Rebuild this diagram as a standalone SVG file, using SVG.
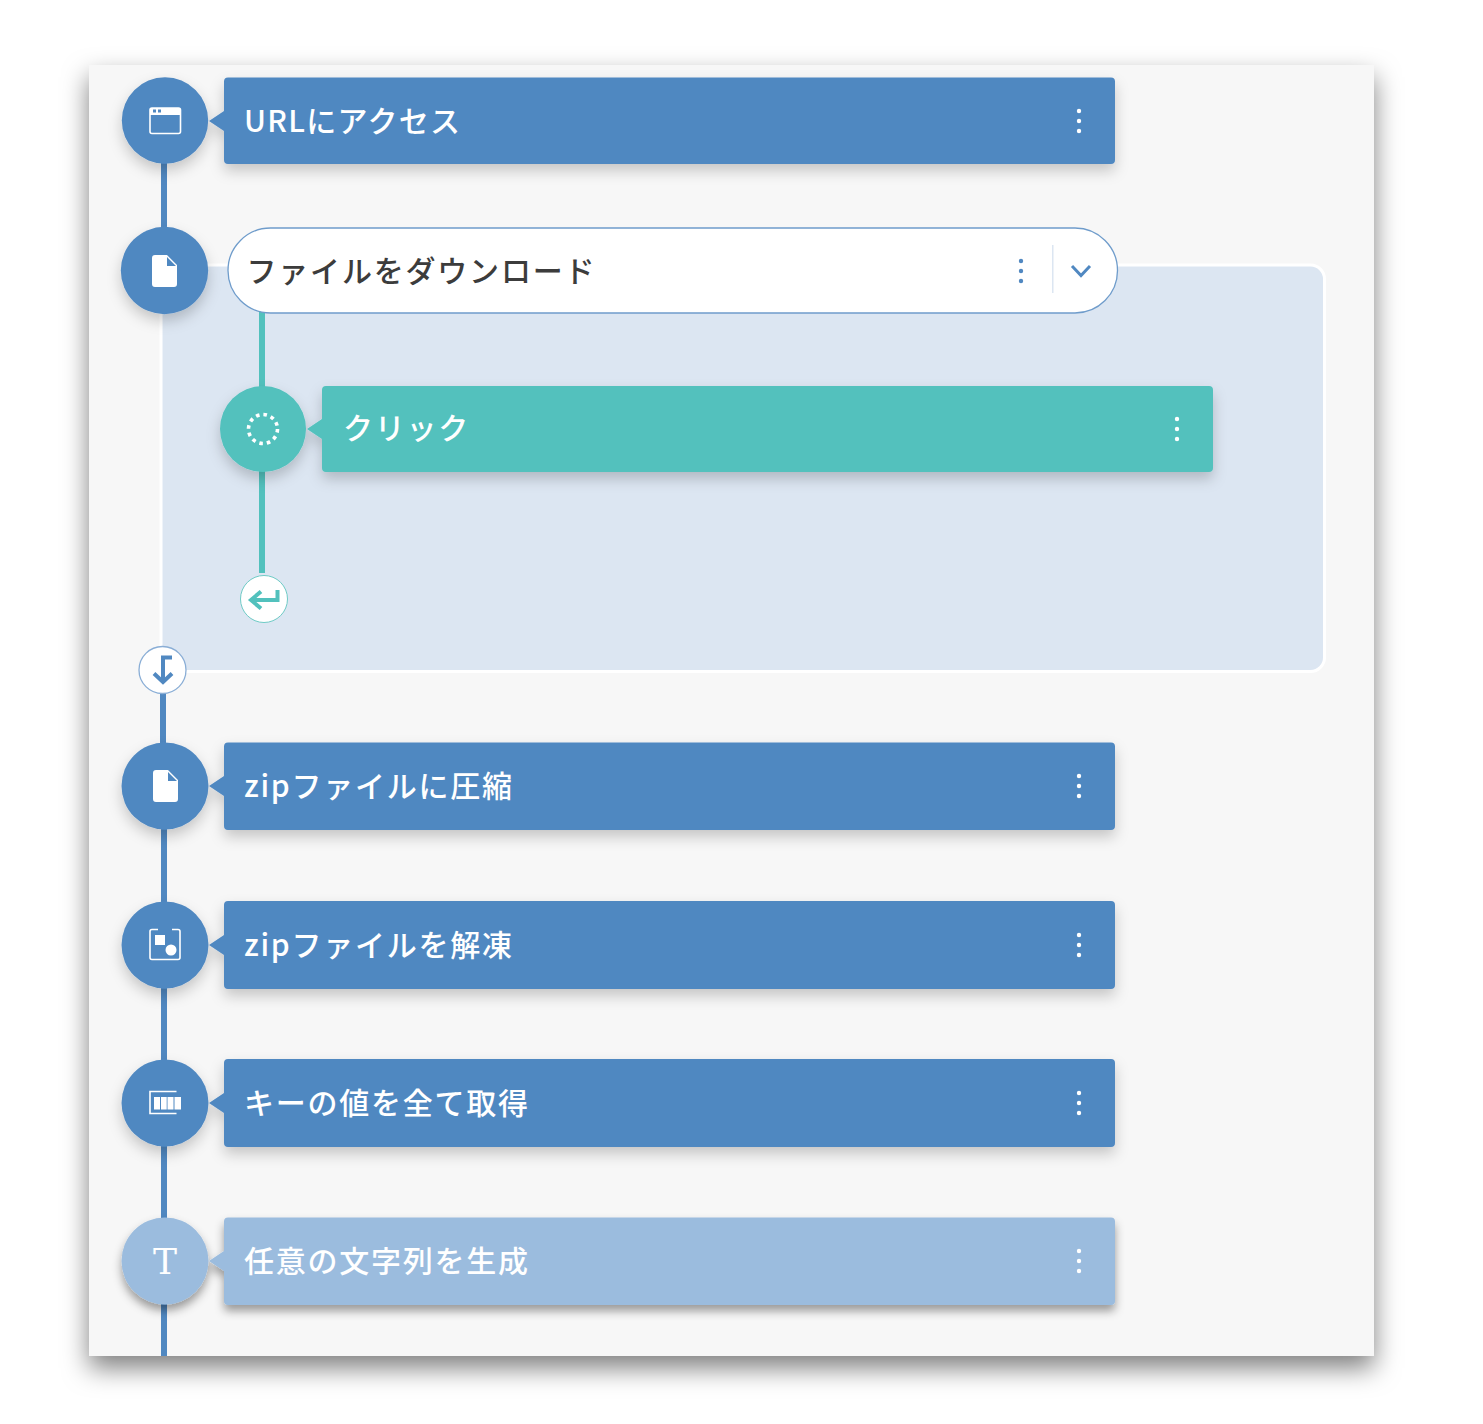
<svg xmlns="http://www.w3.org/2000/svg" width="1483" height="1424" viewBox="0 0 1483 1424">
<style>
text{font-family:"Noto Sans CJK JP","Noto Sans",sans-serif;font-size:30px;font-weight:500;letter-spacing:1.75px;fill:#fff}
.b{fill:#5088c1}.t{fill:#52c1bd}.l{fill:#9bbcde}
.ic{fill:none;stroke:#fff;stroke-width:1.6}
.w{fill:#fff}
</style>
<defs>
<filter id="panel" x="-10%" y="-10%" width="120%" height="120%"><feDropShadow dx="0" dy="12" stdDeviation="13" flood-color="#000" flood-opacity=".5"/></filter>
<filter id="sh" x="-20%" y="-40%" width="140%" height="200%"><feDropShadow dx="0" dy="7" stdDeviation="7" flood-color="#000" flood-opacity=".2"/></filter>
<filter id="shd" x="-20%" y="-40%" width="140%" height="200%"><feDropShadow dx="0" dy="6" stdDeviation="5" flood-color="#000" flood-opacity=".38"/></filter>
<g id="kebab"><circle cx="0" cy="-10" r="2.200"/><circle cx="0" cy="0" r="2.200"/><circle cx="0" cy="10" r="2.200"/></g>
<path id="doc" d="M-11-16H3L13-6V13Q13 16 10 16H-9Q-12 16-12 13V-13Q-12-16-9-16ZM3-14V-5H12Z" fill="#fff" fill-rule="evenodd"/>
</defs>
<rect width="1483" height="1424" fill="#fff"/>
<rect id="canvas" x="89" y="65" width="1285" height="1291" fill="#f7f7f7" filter="url(#panel)"/>
<g id="loop-area"><rect x="161" y="265" width="1163.500" height="406.500" rx="14" fill="#dce6f2" stroke="#fff" stroke-width="3"/></g>
<g id="connectors">
<rect x="161" y="160" width="6" height="72" class="b"/>
<rect x="160" y="690" width="6" height="56" class="b"/>
<rect x="161" y="826" width="6" height="78" class="b"/>
<rect x="161" y="985" width="6" height="78" class="b"/>
<rect x="161" y="1143" width="6" height="78" class="b"/>
<rect x="161" y="1302" width="6" height="54" class="b"/>
<rect x="259" y="310" width="6" height="80" class="t"/>
<rect x="259" y="468" width="6" height="105" class="t"/>
</g>
<g id="node-url">
<g filter="url(#sh)"><circle cx="165" cy="120.500" r="43.200" class="b"/><path d="M224 77.500H1111Q1115 77.500 1115 81.500V160Q1115 164 1111 164H228Q224 164 224 160V131L209 121L224 111V81.500Q224 77.500 228 77.500Z" class="b"/></g>
<text x="244" y="132" style="letter-spacing:1.3px">URLにアクセス</text>
<use href="#kebab" x="1079" y="121" class="w"/>
<rect x="150" y="108" width="30.500" height="25.500" rx="2" class="ic"/><path d="M150 108H180V115H150Z" fill="#fff"/><rect x="153" y="109.500" width="3" height="3" class="b"/><rect x="158" y="109.500" width="3" height="3" class="b"/>
</g>
<g id="node-download">
<circle cx="164.500" cy="270.500" r="43.700" class="b" filter="url(#sh)"/>
<rect x="228" y="228" width="889.500" height="85" rx="42.500" fill="#fff" stroke="#6f9ccb" stroke-width="1.300"/>
<text x="246.500" y="282" style="fill:#3c3c3c;letter-spacing:1.8px">ファイルをダウンロード</text>
<use href="#kebab" x="1021" y="271" class="b"/>
<rect x="1052" y="245" width="1.500" height="48" fill="#dce6f2"/>
<path d="M1072 266L1081 275.500L1090 266" fill="none" stroke="#5088c1" stroke-width="3"/>
<use href="#doc" x="164" y="271"/>
</g>
<g id="node-click">
<g filter="url(#sh)"><circle cx="263" cy="429" r="43" class="t"/><path d="M322 386H1209Q1213 386 1213 390V468Q1213 472 1209 472H326Q322 472 322 468V439L307 429L322 419V390Q322 386 326 386Z" class="t"/></g>
<text x="343" y="439">クリック</text>
<use href="#kebab" x="1177" y="429" class="w"/>
<circle cx="263" cy="429" r="14.500" fill="none" stroke="#fff" stroke-width="3.600" stroke-dasharray="3.600 3.990"/>
</g>
<g id="node-return">
<circle cx="264" cy="599" r="23.500" fill="#fff" stroke="#6fcbc6" stroke-width="1"/>
<path d="M277.500 590V600H252M261 591.500L251 600L261 608.500" fill="none" stroke="#52c1bd" stroke-width="4"/>
</g>
<g id="node-exit">
<circle cx="162.500" cy="670" r="23.500" fill="#fff" stroke="#8aaed6" stroke-width="1.300"/>
<path d="M172 657.500H163V682M154 673.500L163 682L172 673.500" fill="none" stroke="#5088c1" stroke-width="4"/>
</g>
<g id="node-zip">
<g filter="url(#sh)"><circle cx="165" cy="786" r="43.500" class="b"/><path d="M224 742.500H1111Q1115 742.500 1115 746.500V826Q1115 830 1111 830H228Q224 830 224 826V796L209 786L224 776V746.500Q224 742.500 228 742.500Z" class="b"/></g>
<text x="244" y="797">zipファイルに圧縮</text>
<use href="#kebab" x="1079" y="786" class="w"/>
<use href="#doc" x="165" y="786"/>
</g>
<g id="node-unzip">
<g filter="url(#sh)"><circle cx="165" cy="945" r="43.500" class="b"/><path d="M224 901H1111Q1115 901 1115 905V985Q1115 989 1111 989H228Q224 989 224 985V955L209 945L224 935V905Q224 901 228 901Z" class="b"/></g>
<text x="244" y="956">zipファイルを解凍</text>
<use href="#kebab" x="1079" y="945" class="w"/>
<path d="M158 929.500H152Q150 929.500 150 931.500V957.500Q150 959.500 152 959.500H178Q180 959.500 180 957.500V931.500Q180 929.500 178 929.500H172" class="ic"/><rect x="155" y="935" width="10" height="10" class="w"/><circle cx="171" cy="950" r="5.500" class="w"/>
</g>
<g id="node-keys">
<g filter="url(#sh)"><circle cx="165" cy="1103" r="43.500" class="b"/><path d="M224 1059H1111Q1115 1059 1115 1063V1143Q1115 1147 1111 1147H228Q224 1147 224 1143V1113L209 1103L224 1093V1063Q224 1059 228 1059Z" class="b"/></g>
<text x="244" y="1114">キーの値を全て取得</text>
<use href="#kebab" x="1079" y="1103" class="w"/>
<path d="M176.500 1091.500H150V1113.500H176.500" class="ic"/><rect x="154" y="1097" width="6" height="12.500" class="w"/><rect x="161" y="1097" width="5.700" height="12.500" class="w"/><rect x="167.500" y="1097" width="6" height="12.500" class="w"/><rect x="174.500" y="1097" width="6.500" height="12.500" class="w"/>
</g>
<g id="node-random">
<g filter="url(#shd)"><circle cx="165" cy="1261" r="43.500" class="l"/><path d="M224 1217.500H1111Q1115 1217.500 1115 1221.500V1301Q1115 1305 1111 1305H228Q224 1305 224 1301V1271L209 1261L224 1251V1221.500Q224 1217.500 228 1217.500Z" class="l"/></g>
<text x="244" y="1272">任意の文字列を生成</text>
<use href="#kebab" x="1079" y="1261" class="w"/>
<text x="165" y="1274" text-anchor="middle" style="font-family:'DejaVu Serif',serif;font-size:36px;font-weight:400;letter-spacing:0">T</text>
</g>
</svg>
